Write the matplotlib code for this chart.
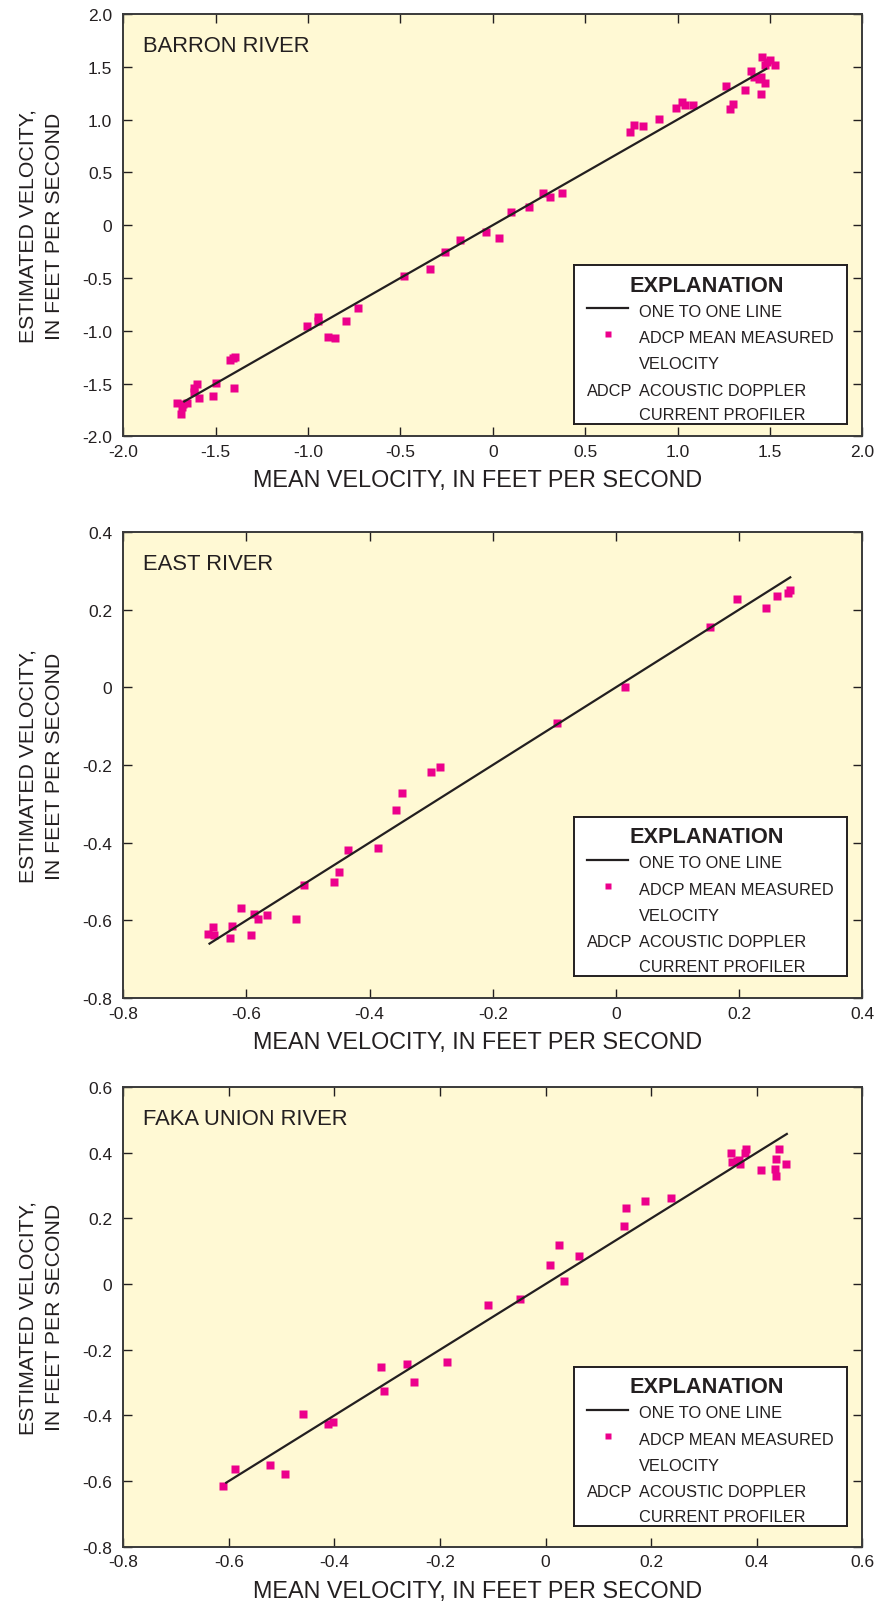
import matplotlib
matplotlib.use('Agg')
import matplotlib.pyplot as plt
from matplotlib.ticker import FuncFormatter, MultipleLocator

# 原图为窄体字, 这里用 Liberation Sans 并按文字宽度调字号
plt.rcParams['font.family'] = ['Liberation Sans', 'DejaVu Sans']
plt.rcParams['axes.unicode_minus'] = False

W, H = 875, 1608
INK = '#231f20'
BG = '#fff9d4'
PINK = '#ec008c'

rivers = ['BARRON RIVER', 'EAST RIVER', 'FAKA UNION RIVER']

# Barron River: mean velocity (x) / estimated velocity (y), ft/s
barron_mean = [1.458, 1.498, 1.525, 1.471, 1.485, 1.395, 1.416, 1.453, 1.471, 1.440,
               1.366, 1.453, 1.299, 1.285, 1.263,
               0.990, 1.022, 1.041, 1.084, 0.741, 0.762, 0.813, 0.899,
               0.272, 0.312, 0.374, 0.100, 0.197, -0.036, 0.036, -0.178, -0.259,
               -0.478, -0.339, -0.730, -0.794, -0.947, -0.945, -1.003, -0.893, -0.856,
               -1.421, -1.394, -1.408, -1.499, -1.403, -1.512, -1.599, -1.617, -1.620,
               -1.591, -1.707, -1.675, -1.656, -1.687, -1.682]
barron_est = [1.590, 1.564, 1.520, 1.520, 1.545, 1.457, 1.406, 1.400, 1.344, 1.380,
              1.280, 1.242, 1.150, 1.100, 1.315,
              1.113, 1.163, 1.138, 1.138, 0.886, 0.949, 0.936, 1.006,
              0.301, 0.267, 0.301, 0.122, 0.169, -0.068, -0.125, -0.137, -0.251,
              -0.485, -0.415, -0.781, -0.904, -0.873, -0.904, -0.952, -1.056, -1.072,
              -1.274, -1.251, -1.262, -1.491, -1.539, -1.617, -1.504, -1.545, -1.582,
              -1.639, -1.684, -1.693, -1.684, -1.788, -1.720]

# East River
east_mean = [0.283, 0.279, 0.262, 0.244, 0.196, 0.152, 0.014, -0.096, -0.286, -0.301,
             -0.347, -0.357, -0.387, -0.435, -0.449, -0.458, -0.507, -0.519, -0.566,
             -0.582, -0.587, -0.592, -0.609, -0.624, -0.627, -0.654, -0.652, -0.662]
east_est = [0.251, 0.242, 0.234, 0.205, 0.227, 0.156, 0.001, -0.092, -0.206, -0.219,
            -0.272, -0.317, -0.413, -0.419, -0.476, -0.501, -0.509, -0.597, -0.587,
            -0.597, -0.583, -0.639, -0.568, -0.615, -0.646, -0.616, -0.638, -0.634]

# Faka Union River
faka_mean = [0.352, 0.354, 0.362, 0.368, 0.377, 0.380, 0.366, 0.443, 0.437, 0.434,
             0.437, 0.456, 0.408, 0.237, 0.189, 0.153, 0.148, 0.026, 0.064, 0.009,
             0.034, -0.048, -0.109, -0.186, -0.263, -0.250, -0.311, -0.307, -0.460,
             -0.412, -0.402, -0.589, -0.522, -0.494, -0.612]
faka_est = [0.399, 0.371, 0.374, 0.367, 0.399, 0.412, 0.379, 0.412, 0.382, 0.351,
            0.330, 0.364, 0.346, 0.263, 0.253, 0.233, 0.177, 0.120, 0.085, 0.057,
            0.010, -0.045, -0.063, -0.237, -0.245, -0.298, -0.252, -0.327, -0.397,
            -0.427, -0.419, -0.562, -0.552, -0.578, -0.615]

# 一比一线的范围
one_to_one = [(-1.67, 1.48), (-0.66, 0.283), (-0.605, 0.457)]
limits = [(-2.0, 2.0), (-0.8, 0.4), (-0.8, 0.6)]
steps = [0.5, 0.2, 0.2]

series = [(barron_mean, barron_est), (east_mean, east_est), (faka_mean, faka_est)]

# 像素布局 (top, bottom)
ax_left, ax_right = 123.3, 862.3
panel_px = [(15, 437.3), (532.9, 999), (1088, 1547.7)]
legend_top = [266, 817.7, 1367.7]
leg_left, leg_w, leg_h = 574, 272.7, 159
xlabel_cx = 478


def fmt(v, pos):
    if abs(v) < 1e-9:
        return '0'
    return '%.1f' % v


fig = plt.figure(figsize=(W / 100, H / 100), dpi=100)

for i in range(3):
    top, bot = panel_px[i]
    ax = fig.add_axes([ax_left / W, 1 - bot / H, (ax_right - ax_left) / W, (bot - top) / H])
    ax.set_facecolor(BG)
    xs, ys = series[i]
    lo, hi = limits[i]
    ax.plot(xs, ys, 's', color=PINK, ms=5.6, mec='none', zorder=2)
    a, b = one_to_one[i]
    ax.plot([a, b], [a, b], color=INK, lw=1.6, zorder=3)
    ax.set_xlim(lo, hi)
    ax.set_ylim(lo, hi)
    ax.xaxis.set_major_locator(MultipleLocator(steps[i]))
    ax.yaxis.set_major_locator(MultipleLocator(steps[i]))
    ax.xaxis.set_major_formatter(FuncFormatter(fmt))
    ax.yaxis.set_major_formatter(FuncFormatter(fmt))
    ax.tick_params(direction='in', length=6.5, width=1.0, color=INK,
                   top=True, right=True, labelsize=12.5, labelcolor=INK)
    ax.tick_params(axis='x', pad=5.5)
    ax.tick_params(axis='y', pad=8)
    for sp in ax.spines.values():
        sp.set_linewidth(1.4)
        sp.set_color('#3a3a3a')

    ax.annotate(rivers[i], xy=(0, 1), xycoords='axes fraction',
                xytext=(20 * 0.72, -37 * 0.72), textcoords='offset points',
                ha='left', va='baseline', fontsize=15.8, color=INK)

    fig.text(xlabel_cx / W, 1 - (bot + 50) / H,
             'MEAN VELOCITY, IN FEET PER SECOND', ha='center', va='baseline',
             fontsize=16.8, color=INK)
    fig.text(41 / W, 1 - (top + bot) / 2 / H,
             'ESTIMATED VELOCITY,\nIN FEET PER SECOND', rotation=90,
             ha='center', va='center', multialignment='center',
             linespacing=1.5, fontsize=15.3, color=INK)

    # 图例 (EXPLANATION)
    lt = legend_top[i]
    lax = fig.add_axes([leg_left / W, 1 - (lt + leg_h) / H, leg_w / W, leg_h / H])
    lax.set_xlim(0, leg_w)
    lax.set_ylim(leg_h, 0)
    lax.set_xticks([])
    lax.set_yticks([])
    lax.set_facecolor('white')
    for sp in lax.spines.values():
        sp.set_linewidth(1.4)
        sp.set_color(INK)
    lax.text(132.7, 25.6, 'EXPLANATION', ha='center', va='baseline',
             fontsize=15.7, fontweight='bold', color=INK)
    lax.plot([12.7, 54.3], [43.3, 43.3], color=INK, lw=1.6)
    lax.plot([33.7], [69], 's', color=PINK, ms=4.8, mec='none')
    rows = [(65, 50.6, 'ONE TO ONE LINE'),
            (65, 77.3, 'ADCP MEAN MEASURED'),
            (65, 103, 'VELOCITY'),
            (12.7, 129.6, 'ADCP'),
            (65, 129.6, 'ACOUSTIC DOPPLER'),
            (65, 154, 'CURRENT PROFILER')]
    for x, y, s in rows:
        lax.text(x, y, s, ha='left', va='baseline', fontsize=11.8, color=INK)

fig.savefig('out.png', dpi=100)
plt.close()
